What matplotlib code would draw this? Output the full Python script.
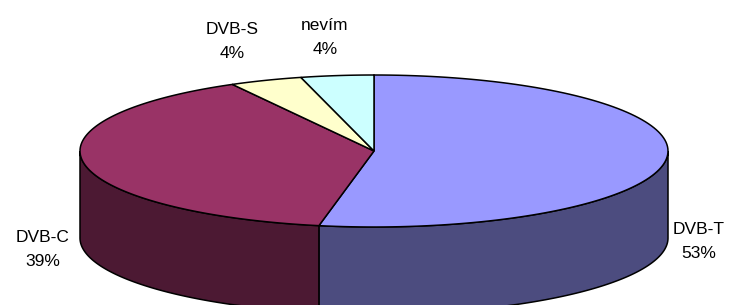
import numpy as np
import matplotlib
matplotlib.use("Agg")
import matplotlib.pyplot as plt
from matplotlib.patches import Polygon

# --- data ---
labels = ["DVB-T", "DVB-C", "DVB-S", "nevím"]
shares = [53, 39, 4, 4]
top_colors = ["#9999FF", "#993366", "#FFFFCC", "#CCFFFF"]
side_colors = ["#4C4C7F", "#4C1933", "#7F7F66", "#667F7F"]

# --- geometry (pixels, y grows downward) ---
CX, CY = 374, 151
A, B = 294, 76
DEPTH = 87
LABEL_POS = [(699, 241), (43, 249), (232, 41), (325, 37)]


def ellipse_pts(t0, t1, dy=0.0, n=120):
    t = np.radians(np.linspace(t0, t1, n))
    return np.column_stack([CX + A * np.sin(t), CY - B * np.cos(t) + dy])


fig = plt.figure(figsize=(7.39, 3.05), dpi=100)
ax = fig.add_axes([0, 0, 1, 1])
ax.set_xlim(0, 739)
ax.set_ylim(305, 0)
ax.axis("off")

total = float(sum(shares))
edges = np.concatenate([[0], np.cumsum(shares) / total * 360.0])

# side walls (front half only: 90..270 deg clockwise from top)
for i in range(len(shares)):
    t0, t1 = max(edges[i], 90.0), min(edges[i + 1], 270.0)
    if t1 <= t0:
        continue
    upper = ellipse_pts(t0, t1)
    lower = ellipse_pts(t1, t0, dy=DEPTH)
    ax.add_patch(Polygon(np.vstack([upper, lower]), closed=True,
                         facecolor=side_colors[i], edgecolor="black", lw=1.1))

# top face
for i in range(len(shares)):
    arc = ellipse_pts(edges[i], edges[i + 1])
    pts = np.vstack([[CX, CY], arc])
    ax.add_patch(Polygon(pts, closed=True, facecolor=top_colors[i],
                         edgecolor="black", lw=1.1))

# labels
for (x, y), name, val in zip(LABEL_POS, labels, shares):
    ax.text(x, y, f"{name}\n{val}%", ha="center", va="center",
            fontsize=12.5, family="Liberation Sans", linespacing=1.75)

fig.savefig("out.png", dpi=100)
